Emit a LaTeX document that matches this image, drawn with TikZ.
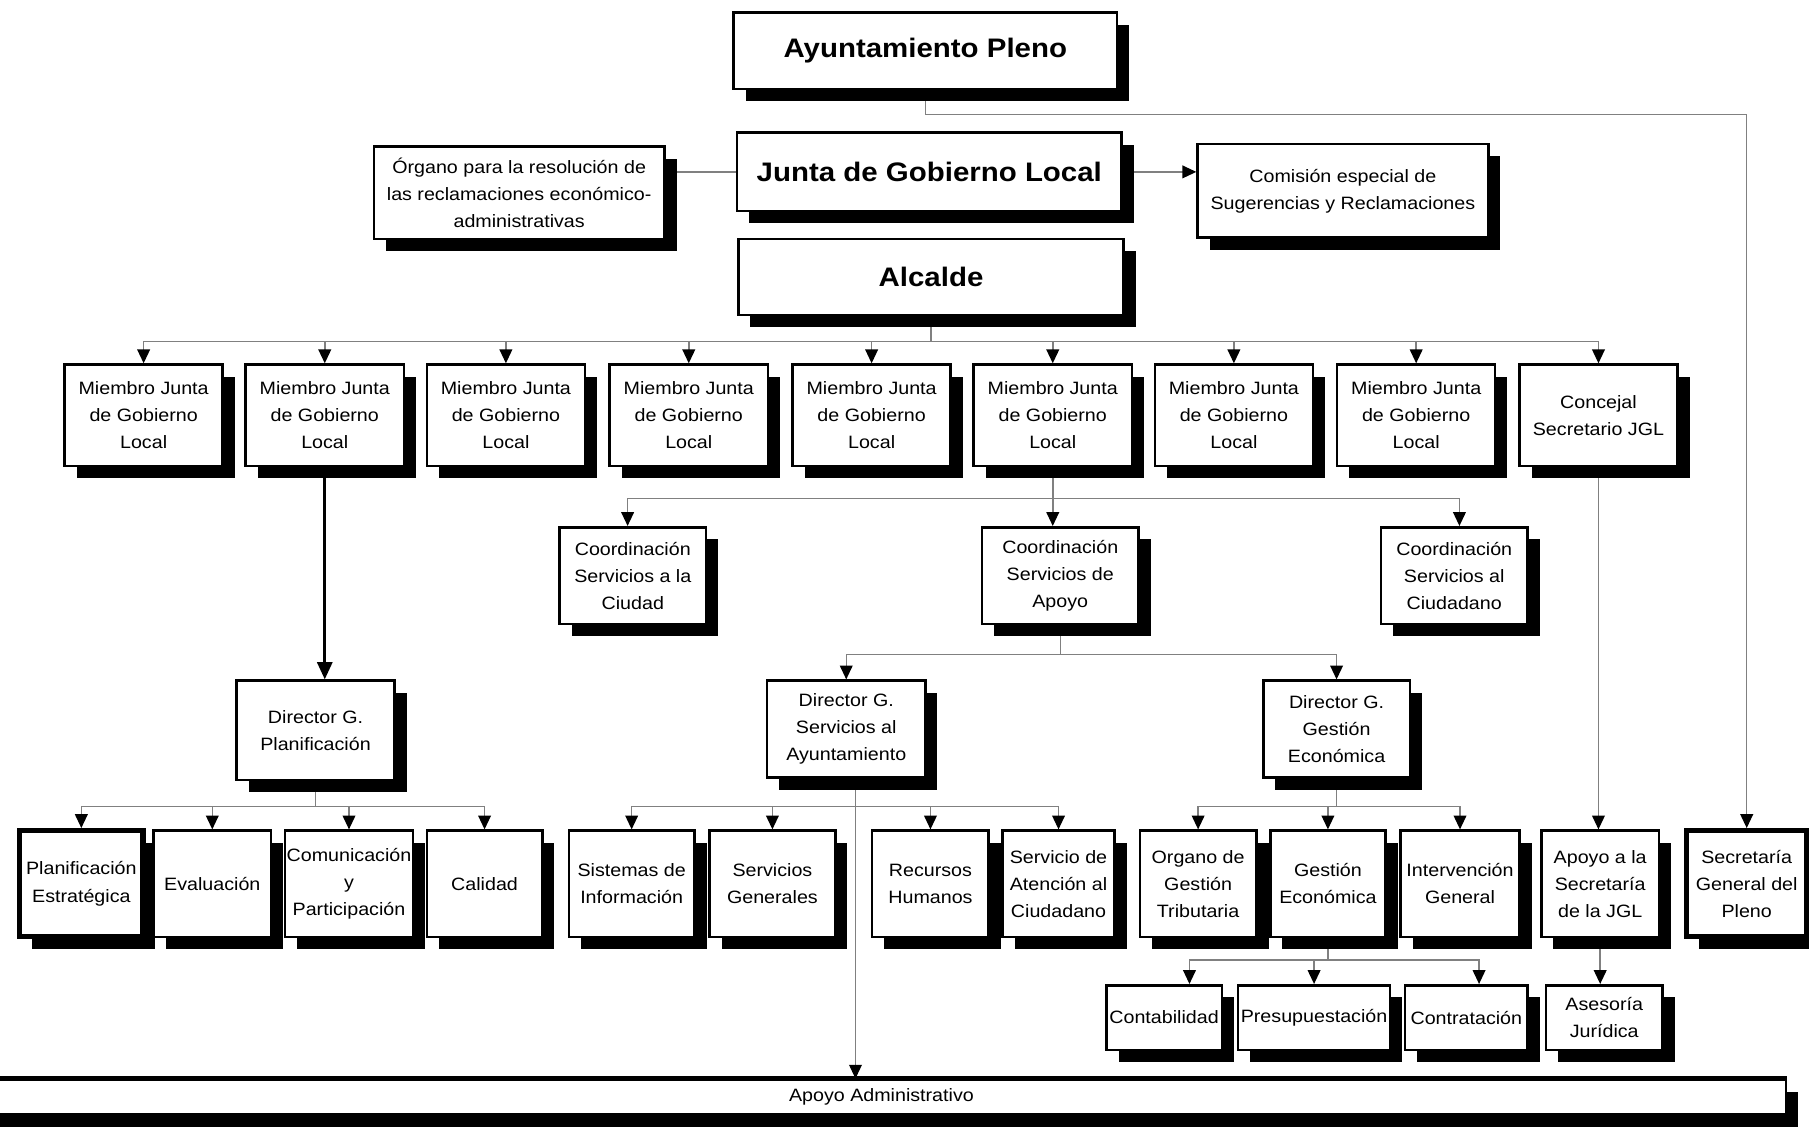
\documentclass[tikz,border=0pt]{standalone}
\usepackage{fontspec}
\setmainfont{Liberation Sans}[FakeStretch=1.1]
\usetikzlibrary{arrows.meta,shadows}
\pgfdeclarelayer{background}
\pgfsetlayers{background,main}
\definecolor{linkgray}{HTML}{808080}

\tikzset{
  unit/.style={draw=black, line width=2.2pt, fill=white, inner sep=0pt, align=center,
    font=\fontsize{15.5}{23.5}\selectfont,
    drop shadow={shadow xshift=10.5pt, shadow yshift=-10.5pt, opacity=1, fill=black}},
  headunit/.style={unit, font=\fontsize{23.2}{28}\selectfont\bfseries},
  heavy/.style={line width=4.5pt},
  mj/.style={unit, minimum width=137pt, minimum height=88pt},
  coord/.style={unit, minimum height=84pt},
  third/.style={unit, minimum height=92pt},
  fourth/.style={unit, minimum height=56pt},
  link/.style={draw=linkgray, line width=1.3pt},
  arr/.style={link, -{Triangle[length=12pt,width=11pt,color=black]}},
  mainarr/.style={draw=black, line width=2.6pt, -{Triangle[length=15pt,width=13pt]}},
}

\begin{document}
\begin{tikzpicture}[x=1pt,y=-1pt]
\useasboundingbox (0,0) rectangle (1568,979);

% top of the organisation
\node[headunit, minimum width=332pt, minimum height=66pt] (AP) at (802,44) {Ayuntamiento Pleno};
\node[unit, minimum width=252pt, minimum height=80pt] (ORG) at (450,167)
  {Órgano para la resolución de\\las reclamaciones económico-\\administrativas};
\node[headunit, minimum width=333pt, minimum height=68pt] (JGL) at (805.5,149) {Junta de Gobierno Local};
\node[unit, minimum width=252pt, minimum height=81pt] (CES) at (1164,165.5)
  {Comisión especial de\\Sugerencias y Reclamaciones};
\node[headunit, minimum width=334pt, minimum height=66pt] (ALC) at (807,240) {Alcalde};

% members of the Junta de Gobierno
\foreach \nm/\cx in {M1/124.5, M2/281.5, M3/438.5, M4/597, M5/755.5, M6/912.5, M7/1069.5, M8/1227.5}
  \node[mj] (\nm) at (\cx,360) {Miembro Junta\\de Gobierno\\Local};
\node[mj] (M9) at (1385.5,360) {Concejal\\Secretario JGL};

% coordinations
\node[coord, minimum width=127pt] (CSC) at (548.5,499) {Coordinación\\Servicios a la\\Ciudad};
\node[coord, minimum width=136pt] (CSA) at (919,499) {Coordinación\\Servicios de\\Apoyo};
\node[coord, minimum width=127pt] (CSU) at (1260.5,499) {Coordinación\\Servicios al\\Ciudadano};

% general directors
\node[unit, minimum width=137pt, minimum height=86pt] (DGP) at (273.5,633) {Director G.\\Planificación};
\node[unit, minimum width=137pt, minimum height=84pt] (DSA) at (733.5,632) {Director G.\\Servicios al\\Ayuntamiento};
\node[unit, minimum width=127pt, minimum height=84pt] (DGE) at (1158.5,632) {Director G.\\Gestión\\Económica};

% services
\node[third, heavy, minimum width=107pt] (PE) at (70.5,766) {Planificación\\Estratégica};
\node[third, minimum width=102pt] (EV) at (184,766) {Evaluación};
\node[third, minimum width=111pt] (CP) at (302.5,766) {Comunicación\\y\\Participación};
\node[third, minimum width=100pt] (CA) at (420,766) {Calidad};
\node[third, minimum width=109pt] (SI) at (547.5,766) {Sistemas de\\Información};
\node[third, minimum width=109pt] (SG) at (669.5,766) {Servicios\\Generales};
\node[third, minimum width=101pt] (RH) at (806.5,766) {Recursos\\Humanos};
\node[third, minimum width=97pt] (SAC) at (917.5,766) {Servicio de\\Atención al\\Ciudadano};
\node[third, minimum width=101pt] (OGT) at (1038.5,766) {Organo de\\Gestión\\Tributaria};
\node[third, minimum width=100pt] (GE) at (1151,766) {Gestión\\Económica};
\node[third, minimum width=103pt] (IG) at (1265.5,766) {Intervención\\General};
\node[third, minimum width=102pt] (ASJ) at (1387,766) {Apoyo a la\\Secretaría\\de la JGL};
\node[third, heavy, minimum width=104pt] (SGP) at (1514,766) {Secretaría\\General del\\Pleno};

\node[fourth, minimum width=100pt] (CONT) at (1009,882) {Contabilidad};
\node[fourth, minimum width=132pt] (PRES) at (1139,882) {Presupuestación};
\node[fourth, minimum width=106pt] (CONTR) at (1271,882) {Contratación};
\node[fourth, minimum width=101pt] (ASES) at (1390.5,882) {Asesoría\\Jurídica};

% administrative support band
\node[unit, minimum width=1568pt, minimum height=30pt] (AA) at (764,951) {Apoyo Administrativo};
\draw[line width=5pt] (AA.north west) -- (AA.north east);

% connectors
\begin{pgfonlayer}{background}
\draw[arr] (AP.south) -- ++(0,21) -| (SGP.north);
\draw[link] (JGL.west) -- (JGL.west -| ORG.east);
\draw[arr] (JGL.east) -- (JGL.east -| CES.west);
\foreach \nm in {M1,M2,M3,M4,M5,M6,M7,M8,M9}
  \draw[arr] (ALC.south) -- ++(0,22) -| (\nm.north);
\draw[mainarr] (M2.south) -- (M2.south |- DGP.north);
\draw[arr] (M6.south) -- ++(0,27) -| ([xshift=-4.5pt]CSC.north);
\draw[arr] (M6.south) -- ++(0,27) -| ([xshift=4.5pt]CSU.north);
\draw[arr] (M6.south) -- (M6.south |- CSA.north);
\foreach \nm in {DSA,DGE}
  \draw[arr] (CSA.south) -- ++(0,25) -| (\nm.north);
\foreach \nm in {PE,EV,CP,CA}
  \draw[arr] (DGP.south) -- ++(0,22) -| (\nm.north);
\foreach \nm in {SI,SG,RH,SAC}
  \draw[arr] ([xshift=8pt]DSA.south) -- ++(0,24) -| (\nm.north);
\draw[arr] ([xshift=8pt]DSA.south) -- ([xshift=8pt]DSA.south |- AA.north);
\foreach \nm in {OGT,GE,IG}
  \draw[arr] (DGE.south) -- ++(0,24) -| (\nm.north);
\draw[arr] (M9.south) -- (M9.south |- ASJ.north);
\draw[arr] (ASJ.south) -- (ASJ.south |- ASES.north);
\draw[arr] (GE.south) -- ++(0,19) -| ([xshift=22pt]CONT.north);
\draw[arr] (GE.south) -- ++(0,19) -| (PRES.north);
\draw[arr] (GE.south) -- ++(0,19) -| ([xshift=11pt]CONTR.north);
\end{pgfonlayer}
\end{tikzpicture}
\end{document}
